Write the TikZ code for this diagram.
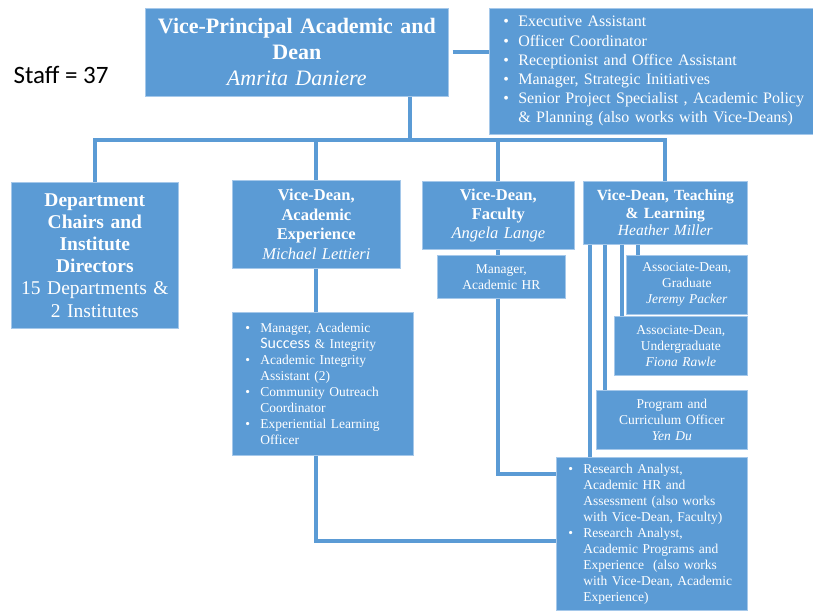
\documentclass[tikz,border=0pt]{standalone}
\usepackage{fontspec}
\setmainfont{Liberation Serif}
\newfontfamily\staffont{Carlito}

\definecolor{boxblue}{RGB}{91,155,213}
\definecolor{edgeblue}{RGB}{165,200,234}

\newcommand{\bul}[1]{\mbox{\makebox[15pt][l]{\textbullet}#1}}
\newcommand{\cnt}[1]{\mbox{\hspace*{15pt}#1}}

\tikzset{
  unit/.style={anchor=north west,fill=boxblue,draw=edgeblue,line width=0.7pt,
    text=white,inner sep=0pt,align=center},
  list/.style={unit,align=left},
  link/.style={draw=boxblue,line width=4pt},
}

\begin{document}
\begin{tikzpicture}[x=1pt,y=-1pt]
\useasboundingbox (0,0) rectangle (813,610);

\node[anchor=west,font=\staffont\fontsize{25}{30}\selectfont] (staff) at (10,75) {Staff = 37};

\node[unit,minimum width=303pt,minimum height=88pt,text width=295pt,font=\fontsize{22}{26}\selectfont] (VP) at (145,8)
  {\textbf{Vice-Principal Academic and}\\ \textbf{Dean}\\ \textit{Amrita Daniere}};
\node[list,minimum width=324pt,minimum height=126pt,text width=296pt,font=\fontsize{16}{19.2}\selectfont] (Exec) at (489,8)
  {\bul{Executive Assistant}\\
   \bul{Officer Coordinator}\\
   \bul{Receptionist and Office Assistant}\\
   \bul{Manager, Strategic Initiatives}\\
   \bul{Senior Project Specialist , Academic Policy}\\
   \cnt{\& Planning (also works with Vice-Deans)}};

\node[unit,minimum width=167pt,minimum height=146pt,text width=160pt,font=\fontsize{19.5}{22.2}\selectfont] (Dept) at (11,182)
  {\textbf{Department}\\ \textbf{Chairs and}\\ \textbf{Institute}\\ \textbf{Directors}\\ 15 Departments \&\\ 2 Institutes};
\node[unit,minimum width=168pt,minimum height=88pt,text width=160pt,font=\fontsize{16.5}{19.6}\selectfont] (AE) at (232,180)
  {\textbf{Vice-Dean,}\\ \textbf{Academic}\\ \textbf{Experience}\\ \textit{Michael Lettieri}};
\node[unit,minimum width=152pt,minimum height=68pt,text width=145pt,font=\fontsize{16.5}{19}\selectfont] (Fac) at (422,181)
  {\textbf{Vice-Dean,}\\ \textbf{Faculty}\\ \textit{Angela Lange}};
\node[unit,minimum width=164pt,minimum height=63pt,text width=158pt,font=\fontsize{15.5}{17.5}\selectfont] (TL) at (583,181)
  {\textbf{Vice-Dean, Teaching}\\ \textbf{\& Learning}\\ \textit{Heather Miller}};

\node[unit,minimum width=128pt,minimum height=43pt,text width=120pt,font=\fontsize{13.5}{16}\selectfont] (HR) at (437,255)
  {Manager,\\ Academic HR};
\node[unit,minimum width=121pt,minimum height=59pt,text width=115pt,font=\fontsize{13.5}{16}\selectfont] (Grad) at (626,255)
  {Associate-Dean,\\ Graduate\\ \textit{Jeremy Packer}};
\node[unit,minimum width=133pt,minimum height=59pt,text width=125pt,font=\fontsize{13.5}{16}\selectfont] (Ugrad) at (614,316)
  {Associate-Dean,\\ Undergraduate\\ \textit{Fiona Rawle}};
\node[unit,minimum width=151pt,minimum height=59pt,text width=145pt,font=\fontsize{13.5}{16}\selectfont] (Prog) at (596,390)
  {Program and\\ Curriculum Officer\\ \textit{Yen Du}};

\node[list,minimum width=181pt,minimum height=143pt,text width=155pt,font=\fontsize{13.5}{16}\selectfont] (AEList) at (232,312)
  {\bul{Manager, Academic}\\
   \cnt{{\staffont\fontsize{16}{16}\selectfont Success} \& Integrity}\\
   \bul{Academic Integrity}\\
   \cnt{Assistant (2)}\\
   \bul{Community Outreach}\\
   \cnt{Coordinator}\\
   \bul{Experiential Learning}\\
   \cnt{Officer}};
\node[list,minimum width=191pt,minimum height=153pt,text width=167pt,font=\fontsize{13.5}{16}\selectfont] (RA) at (556,457)
  {\bul{Research Analyst,}\\
   \cnt{Academic HR and}\\
   \cnt{Assessment (also works}\\
   \cnt{with Vice-Dean, Faculty)}\\
   \bul{Research Analyst,}\\
   \cnt{Academic Programs and}\\
   \cnt{Experience\ \ (also works}\\
   \cnt{with Vice-Dean, Academic}\\
   \cnt{Experience)}};

% links
\coordinate (bus) at (409.5,140);
\draw[link] ([xshift=4pt]VP.east) -- (VP.east -| Exec.west);
\draw[link] (VP.south -| bus) -- (bus);
\draw[link] (Dept.north) |- (bus) -| (TL.north);
\draw[link] (AE.north) -- (AE.north |- bus);
\draw[link] (Fac.north) -- (Fac.north |- bus);

\draw[link] (AE.south) -- (AE.south |- AEList.north);
\draw[link] (AE.south |- AEList.south) |- ([yshift=-7pt]RA.west);

\draw[link] (Fac.south) -- (Fac.south |- HR.north);
\draw[link] (Fac.south |- HR.south) |- ([yshift=-17pt]RA.north west);

\foreach \dx/\tgt in {7/RA,22/Prog,39/Ugrad,55/Grad}{
  \path ([xshift=\dx pt]TL.south west) coordinate (tl);
  \draw[link] (tl) -- (tl |- \tgt.north);
}
\end{tikzpicture}
\end{document}
